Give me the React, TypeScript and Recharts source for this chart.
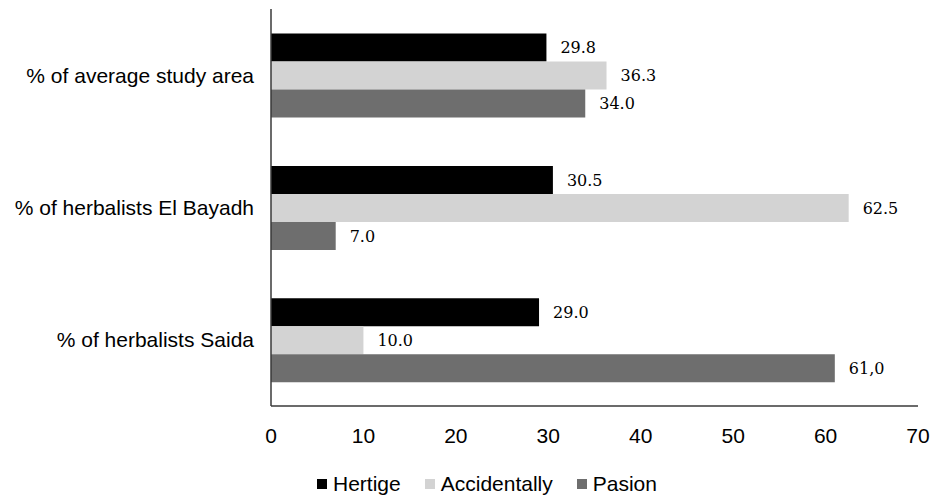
import React from 'react';
import { BarChart, Bar, XAxis, YAxis, LabelList, Legend } from 'recharts';

// Rows of the chart, top to bottom
const categories = ['% of average study area', '% of herbalists El Bayadh', '% of herbalists Saida'];

// Value labels as printed next to each bar; bar lengths are parsed from these
const hertigeLabels = ['29.8', '30.5', '29.0'];
const accidentallyLabels = ['36.3', '62.5', '10.0'];
const pasionLabels = ['34.0', '7.0', '61,0'];

const xTicks = [0, 10, 20, 30, 40, 50, 60, 70];

const seriesNames = ['Hertige', 'Accidentally', 'Pasion'];
const seriesKeys = ['hertige', 'accidentally', 'pasion'];
const seriesColors = ['#000000', '#d3d3d3', '#6e6e6e'];

const toNumber = (s: string) => parseFloat(s.replace(',', '.'));

const data = categories.map((category, i) => ({
  category,
  hertige: toNumber(hertigeLabels[i]),
  hertigeLabel: hertigeLabels[i],
  accidentally: toNumber(accidentallyLabels[i]),
  accidentallyLabel: accidentallyLabels[i],
  pasion: toNumber(pasionLabels[i]),
  pasionLabel: pasionLabels[i],
}));

const SANS = '"Liberation Sans", Arial, sans-serif';
const SERIF = '"DejaVu Serif", serif';

const LegendContent = () => (
  <div
    style={{
      display: 'flex',
      alignItems: 'center',
      paddingLeft: 317,
      paddingTop: 20,
      fontFamily: SANS,
      fontSize: 21,
      color: '#000',
      lineHeight: '24px',
    }}
  >
    {seriesNames.map((name, i) => (
      <div key={name} style={{ display: 'flex', alignItems: 'center', marginRight: 24 }}>
        <span
          style={{
            display: 'inline-block',
            width: 10,
            height: 10,
            background: seriesColors[i],
            marginRight: 6,
          }}
        />
        <span>{name}</span>
      </div>
    ))}
  </div>
);

export default function App() {
  return (
    <div style={{ position: 'absolute', left: 0, top: 0, background: '#fff' }}>
      <BarChart
        width={933}
        height={497}
        data={data}
        layout="vertical"
        margin={{ top: 9, right: 15, bottom: 0, left: 0 }}
        barCategoryGap="18.6%"
        barGap={0}
      >
        <XAxis
          type="number"
          domain={[0, 70]}
          ticks={xTicks}
          interval={0}
          axisLine={{ stroke: '#3a3a3a', strokeWidth: 1.5 }}
          tickLine={false}
          tickMargin={16}
          height={46}
          tick={{ fill: '#000', fontSize: 21, fontFamily: SANS }}
        />
        <YAxis
          type="category"
          dataKey="category"
          width={271}
          axisLine={{ stroke: '#3a3a3a', strokeWidth: 1.5 }}
          tickLine={false}
          tickMargin={11}
          tick={{ fill: '#000', fontSize: 21, fontFamily: SANS }}
        />
        <Legend verticalAlign="bottom" height={45} wrapperStyle={{ left: 0, width: 933 }} content={LegendContent} />
        {seriesKeys.map((key, i) => (
          <Bar key={key} dataKey={key} name={seriesNames[i]} fill={seriesColors[i]} isAnimationActive={false}>
            <LabelList
              dataKey={key + 'Label'}
              position="right"
              offset={14}
              style={{ fill: '#000', fontSize: 16, fontFamily: SERIF }}
            />
          </Bar>
        ))}
      </BarChart>
    </div>
  );
}
